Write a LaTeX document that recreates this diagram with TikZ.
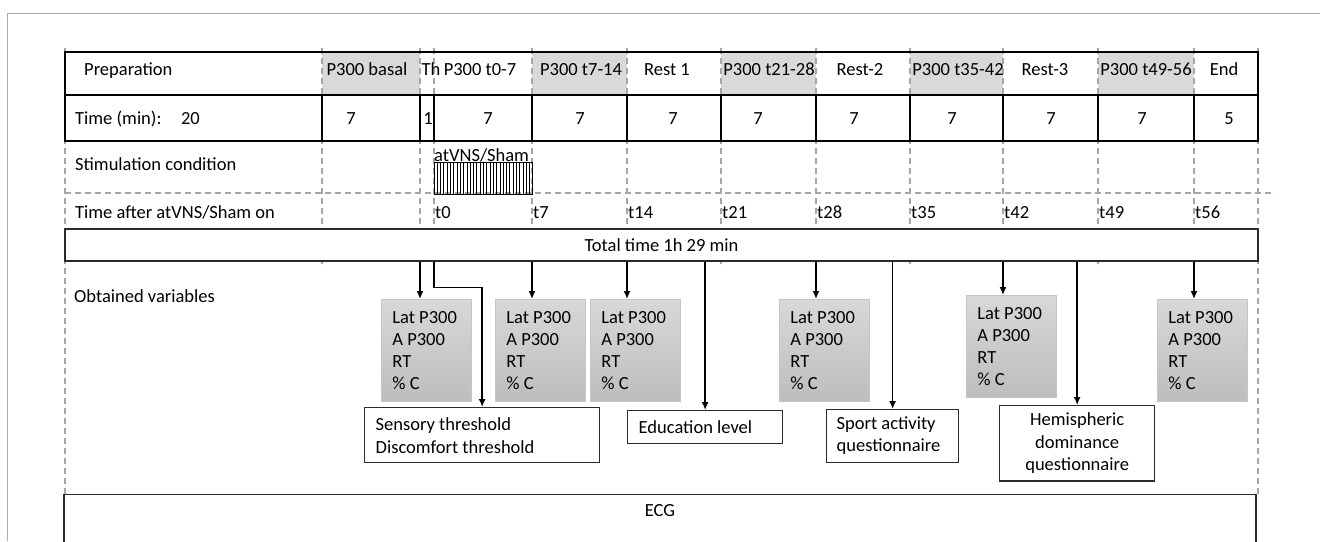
\documentclass[tikz,border=0pt]{standalone}
\usepackage{fontspec}
\setmainfont{Carlito}
\usepackage{tikz}
\usetikzlibrary{arrows.meta}
\definecolor{cellgray}{HTML}{D9D9D9}
\definecolor{dashgray}{HTML}{A6A6A6}
\definecolor{framegray}{HTML}{ABABAB}
\definecolor{lattop}{HTML}{D8D8D8}
\definecolor{latbot}{HTML}{BDBDBD}
\definecolor{latedge}{HTML}{C6C6C6}
\definecolor{boxline}{HTML}{2B2B2B}

\begin{document}
\begin{tikzpicture}[x=1pt, y=-1pt,
  every node/.style={font=\fontsize{18.5}{22}\selectfont, inner sep=0pt},
  grid/.style={dashgray, line width=1.2pt, dash pattern=on 6pt off 4pt},
  arr/.style={-{Latex[length=8pt,width=7pt]}, line width=1.5pt},
  varbox/.style={draw=latedge, line width=0.8pt, top color=lattop, bottom color=latbot, anchor=north west, align=flush left, text width=68pt, inner xsep=11pt, inner ysep=12pt},
  infobox/.style={draw=boxline, fill=white, line width=1.3pt, anchor=north west}]
  \useasboundingbox (0,0) rectangle (1320,541);
  \clip (0,0) rectangle (1320,541);
  \fill[white] (0,0) rectangle (1320,541);
  % column lines
  \foreach \x [count=\i] in {65,322,420,434,532,627,721,816,910,1003,1098,1194,1258}
    \coordinate (c\i) at (\x,0);
  \foreach \xa/\xb in {322/420, 532/627, 721/816, 910/1003, 1098/1194}
    \fill[cellgray] (\xa,52) rectangle (\xb,95);
  \foreach \x in {322,420,434,532,627,721,816,910,1003,1098,1194}
    \draw[grid] (\x,48) -- (\x,268);
  \draw[grid] (65,48) -- (65,494);
  \draw[grid] (1258,48) -- (1258,494);
  \draw[grid] (65,193) -- (1275,193);
  \draw[line width=2pt] (65,52) rectangle (1258,141);
  \draw[line width=2pt] (65,95) -- (1258,95);
  \foreach \x in {322,420,434,532,627,721,816,910,1003,1098,1194}
    \draw[line width=1.3pt] (\x,95) -- (\x,141);
  \node[anchor=base west] (prep) at (84,75) {Preparation};
  \node[anchor=base west] (tmin) at (75,124) {Time (min):\hspace{19.5pt}20};
  \node[anchor=base west] (stimcond) at (75,170) {Stimulation condition};
  \node[anchor=base west] (tafter) at (75,218) {Time after atVNS/Sham on};
  \node[anchor=base west] (obtained) at (74,302) {Obtained variables};
  \foreach \x/\lab [count=\i] in {367/P300 basal, 431/Th, 480/P300 t0-7, 581/P300 t7-14, 667/Rest 1, 769/P300 t21-28, 860/Rest-2, 958/P300 t35-42, 1045/Rest-3, 1146/P300 t49-56, 1224/End}
    \node[anchor=base] (phase\i) at (\x,75) {\lab};
  \foreach \x/\n [count=\i] in {351/7, 428/1, 488/7, 580/7, 673/7, 758/7, 854/7, 952/7, 1051/7, 1142/7, 1229/5}
    \node[anchor=base] (dur\i) at (\x,124) {\n};
  % stimulation
  \node[draw, line width=1pt, minimum width=98pt, minimum height=32pt, anchor=north west] (stim) at (434,162) {};
  \foreach \x in {437.3,440.6,...,530}
    \draw[line width=1pt] (\x,162) -- (\x,194);
  \node[anchor=base west] (stimlab) at (434,161) {atVNS/Sham};
  \foreach \x/\t in {434/0, 532/7, 627/14, 721/21, 816/28, 910/35, 1003/42, 1098/49, 1194/56}
    \node[anchor=base west] (t\t) at (\x+1,218) {t\t};
  \node[draw=boxline, line width=1.3pt, fill=white, minimum width=1193pt, minimum height=32pt, text height=12pt, text depth=0pt] (total) at (661.5,245) {Total time 1h 29 min};
  % variables
  \node[varbox] (lat1) at (381,299) {Lat P300\\A P300\\RT\\\% C};
  \node[varbox] (lat2) at (495,299) {Lat P300\\A P300\\RT\\\% C};
  \node[varbox] (lat3) at (590,299) {Lat P300\\A P300\\RT\\\% C};
  \node[varbox] (lat4) at (779,299) {Lat P300\\A P300\\RT\\\% C};
  \node[varbox] (lat5) at (966,295) {Lat P300\\A P300\\RT\\\% C};
  \node[varbox] (lat6) at (1157,299) {Lat P300\\A P300\\RT\\\% C};
  \node[infobox, align=flush left, text width=213pt, inner xsep=11pt, inner ysep=9.5pt, font=\fontsize{18.5}{23}\selectfont] (thr) at (364,407) {Sensory threshold\\Discomfort threshold};
  \node[infobox, align=flush left, text width=133pt, inner xsep=11pt, inner ysep=10pt] (edu) at (627,410) {Education level};
  \node[infobox, align=flush left, text width=112pt, inner xsep=10pt, inner ysep=7.5pt] (sport) at (826,409) {Sport activity\\questionnaire};
  \node[infobox, align=flush center, text width=135pt, inner xsep=10pt, inner ysep=7.3pt, font=\fontsize{18.5}{22.5}\selectfont] (hemi) at (999,405) {Hemispheric\\dominance\\questionnaire};
  \draw[arr] (total.south -| c3) -- (c3 |- lat1.north);
  \draw[arr] (total.south -| c5) -- (c5 |- lat2.north);
  \draw[arr] (total.south -| c6) -- (c6 |- lat3.north);
  \draw[arr] (total.south -| c8) -- (c8 |- lat4.north);
  \draw[arr] (total.south -| c10) -- (c10 |- lat5.north);
  \draw[arr] (total.south -| c12) -- (c12 |- lat6.north);
  \draw[arr] (total.south -| c4) -- ++(0,26) -| (thr.north);
  \draw[arr] (total.south -| edu.north) -- (edu.north);
  \draw[arr] (total.south -| sport.north) -- (sport.north);
  \draw[arr] (total.south -| hemi.north) -- (hemi.north);
  \node[draw=boxline, line width=1.3pt, fill=white, anchor=north, minimum width=1192pt, inner ysep=10pt, text height=12pt, text depth=40pt] (ecg) at (660,494) {ECG};
  \draw[framegray, line width=1pt] (7,541) -- (7,13) -- (1320,13);
\end{tikzpicture}
\end{document}
